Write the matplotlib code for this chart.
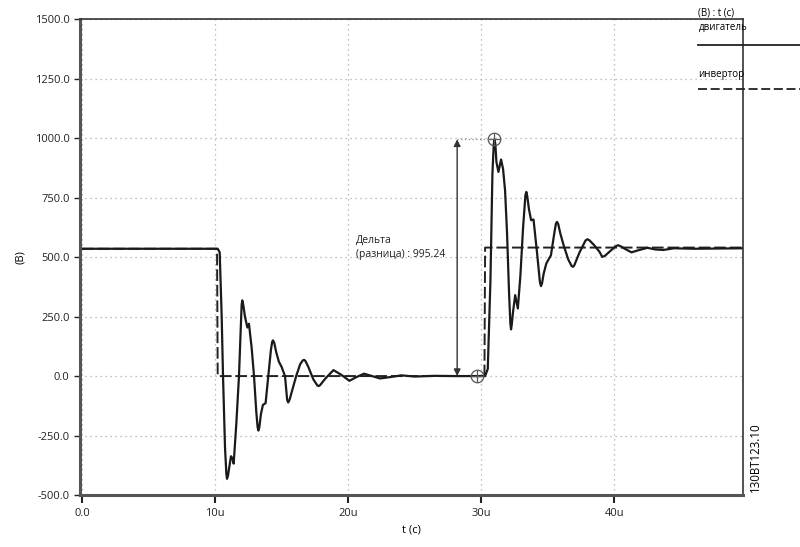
import matplotlib
matplotlib.use("Agg")
import matplotlib.pyplot as plt
from matplotlib.lines import Line2D

plt.rcParams['font.family'] = ['Open Sans', 'DejaVu Sans']

# motor voltage (solid), time in microseconds
motor_t = [0, 10.2, 10.35, 10.5, 10.6, 10.75, 10.85, 10.9, 10.97, 11.05, 11.2, 11.3, 11.4,
           11.6, 11.8, 11.95, 12.0, 12.05, 12.12, 12.25, 12.43, 12.55, 12.75, 12.93, 13.1,
           13.2, 13.26, 13.33, 13.45, 13.6, 13.8, 14.0, 14.2, 14.3, 14.36, 14.45, 14.6,
           14.8, 15.0, 15.26, 15.42, 15.5, 15.6, 15.8, 16.1, 16.4, 16.6, 16.7, 16.8,
           17.0, 17.4, 17.7, 17.8, 17.9, 18.3, 18.9, 19.5, 20.1, 20.6, 21.2, 21.8, 22.4,
           23.2, 24.0, 25.0, 26.5, 28.0, 30.3, 30.5, 30.7, 30.85, 30.95, 31.0, 31.07,
           31.15, 31.3, 31.5, 31.65, 31.8, 31.95, 32.1, 32.2, 32.25, 32.3, 32.4, 32.56,
           32.76, 32.95, 33.15, 33.33, 33.4, 33.47, 33.6, 33.76, 33.94, 34.2, 34.42, 34.5,
           34.58, 34.7, 34.9, 35.25, 35.5, 35.62, 35.7, 35.8, 35.95, 36.2, 36.55, 36.8,
           36.9, 37.0, 37.4, 37.85, 38.0, 38.15, 38.5, 38.9, 39.1, 39.3, 39.7, 40.1,
           40.3, 40.5, 40.8, 41.3, 41.9, 42.5, 43.1, 43.7, 44.5, 46.0, 49.7]
motor_v = [535, 535, 520, 250, 0, -300, -410, -432, -420, -390, -337, -345, -368,
           -200, 0, 230, 300, 318, 300, 250, 204, 220, 120, 0, -150,
           -215, -229, -215, -160, -121, -114, 0, 110, 145, 150, 140, 100,
           60, 39, 0, -100, -111, -100, -60, 0, 50, 66, 68, 63,
           40, -15, -40, -42, -38, -10, 25, 5, -20, -5, 10, 0, -10,
           -4, 3, -2, 1, 0, 0, 30, 400, 850, 975, 995, 975,
           900, 858, 910, 870, 780, 600, 350, 220, 196, 215, 270, 340,
           284, 420, 620, 760, 774, 755, 700, 655, 658, 520, 395, 378,
           390, 430, 473, 508, 600, 640, 648, 638, 600, 550, 490, 463,
           459, 465, 520, 570, 575, 570, 550, 522, 501, 505, 525, 545,
           550, 545, 535, 520, 530, 539, 532, 530, 537, 535, 537]

# inverter voltage (dashed)
inv_t = [0, 10.15, 10.2, 30.25, 30.3, 49.7]
inv_v = [535, 535, 0, 0, 540, 540]

# measurement cursors
cursor_t = [29.7, 31.0]
cursor_v = [0, 995]
arrow_t = 28.2
delta = 995.24

yticks = [-500, -250, 0, 250, 500, 750, 1000, 1250, 1500]
xticks = [0, 10, 20, 30, 40]
xlabels = ['0.0', '10u', '20u', '30u', '40u']

fig = plt.figure(figsize=(8, 5.47), dpi=100)
ax = fig.add_axes([0.1, 0.095, 0.829, 0.87])

ax.plot(inv_t, inv_v, color='#222222', lw=1.4, ls=(0, (6, 2)))
ax.plot(motor_t, motor_v, color='#1a1a1a', lw=1.6, solid_joinstyle='round')

# cursor markers
ax.plot(cursor_t, cursor_v, ls='none', marker='o', ms=9, mfc='none', mec='#555555', mew=0.9)
ax.plot(cursor_t, cursor_v, ls='none', marker='+', ms=9, mec='#555555', mew=0.9)

# delta arrow
ax.annotate('', xy=(arrow_t, cursor_v[1]), xytext=(arrow_t, cursor_v[0]),
            arrowprops=dict(arrowstyle='<|-|>', color='#333333', lw=1, mutation_scale=10,
                            shrinkA=0, shrinkB=0))
ax.plot([arrow_t, cursor_t[1]], [cursor_v[1], cursor_v[1]], color='#888888', lw=0.9, ls=(0, (1, 2)))
ax.text(20.6, 595, 'Дельта\n(разница) : %.2f' % delta, fontsize=7.5, va='top', ha='left',
        color='#222222', linespacing=1.4)

ax.set_xlim(-0.15, 49.7)
ax.set_ylim(-500, 1500)
ax.set_xticks(xticks)
ax.set_xticklabels(xlabels)
ax.set_yticks(yticks)
ax.set_yticklabels(['%.1f' % v for v in yticks])
ax.grid(True, color='#aaaaaa', ls=(0, (1, 3)), lw=0.9)
ax.tick_params(axis='both', labelsize=8, colors='#222222', direction='out')
ax.tick_params(axis='y', length=4, width=1)
ax.tick_params(axis='x', length=6, width=1.5)
ax.set_xlabel('t (c)', fontsize=8, labelpad=4)
ax.set_ylabel('(B)', fontsize=8, labelpad=6)

for side in ['left', 'bottom']:
    ax.spines[side].set_linewidth(2.2)
    ax.spines[side].set_color('#555555')
for side in ['top', 'right']:
    ax.spines[side].set_linewidth(1.2)
    ax.spines[side].set_color('#333333')

# legend outside on the right
fig.text(0.873, 0.976, '(B) : t (c)', fontsize=7, va='center', ha='left')
fig.text(0.873, 0.949, 'двигатель', fontsize=7, va='center', ha='left')
fig.add_artist(Line2D([0.872, 1.0], [0.918, 0.918], color='#222222', lw=1.3))
fig.text(0.873, 0.863, 'инвертор', fontsize=7, va='center', ha='left')
fig.add_artist(Line2D([0.872, 1.0], [0.837, 0.837], color='#222222', lw=1.3, ls=(0, (5, 2))))

fig.text(0.944, 0.1, '130BT123.10', fontsize=8.3, rotation=90, va='bottom', ha='center')

fig.savefig('out.png', dpi=100)
